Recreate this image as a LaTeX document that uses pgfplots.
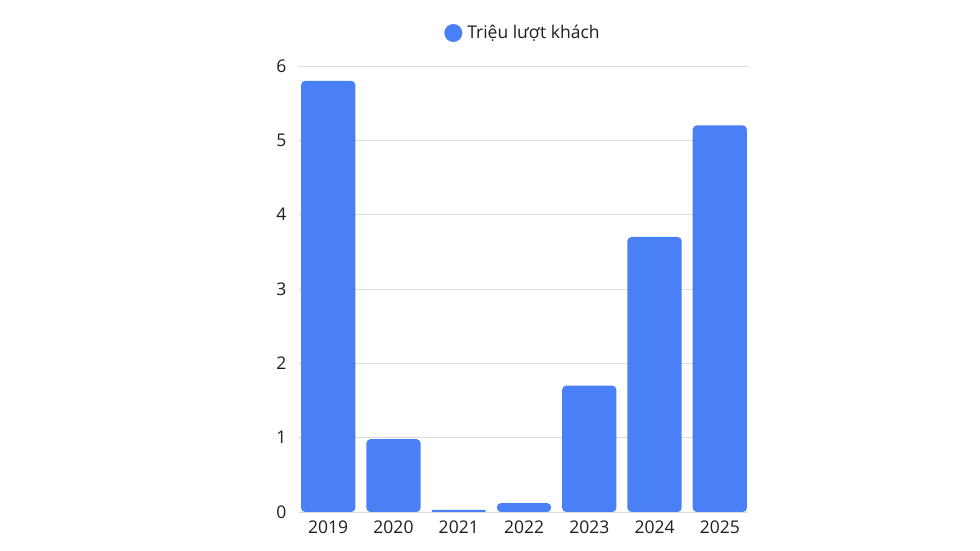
\documentclass[border=0pt]{standalone}
\usepackage{fontspec}
\setmainfont{Open Sans}
\usepackage{pgfplots}
\pgfplotsset{compat=1.18}
\definecolor{barblue}{HTML}{4A80F6}
\definecolor{gridgray}{HTML}{DDDDDD}
\definecolor{textdark}{HTML}{1E1E1E}

\begin{document}
\begin{tikzpicture}[x=1bp,y=1bp]
\useasboundingbox (0,0) rectangle (980,551);
\begin{axis}[
    at={(298bp,39bp)}, anchor=south west,
    scale only axis,
    width=450bp, height=446bp,
    ybar, bar width=0.83, bar shift=0pt,
    xmin=-0.463, xmax=6.432,
    ymin=0, ymax=6,
    xtick={0,...,6},
    xticklabels={2019,2020,2021,2022,2023,2024,2025},
    ytick={0,...,6},
    axis x line=bottom, axis y line=left,
    x axis line style={gridgray, line width=0.8pt, -},
    y axis line style={draw=none},
    ymajorgrids, grid style={gridgray, line width=0.8pt},
    major tick length=0pt,
    tick label style={font=\fontsize{17.5bp}{19bp}\selectfont, text=textdark},
    /pgf/number format/assume math mode=true,
    xticklabel style={yshift=-5bp},
    yticklabel style={xshift=-8bp},
    legend style={at={(0.5,1.074)}, anchor=center, draw=none,
        font=\fontsize{17.5bp}{19bp}\selectfont, text=textdark,
        legend cell align=left},
    legend image code/.code={\fill[barblue] (-3bp,0) circle (9bp);},
    clip=false,
]
\addplot[fill=barblue, draw=none, rounded corners=4bp]
coordinates {(0,5.8) (1,0.98) (3,0.12) (4,1.7) (5,3.7) (6,5.2)};
\addlegendentry{\hspace{3bp}Triệu lượt khách}
% tiny 2021 bar, with smaller corners
\addplot[fill=barblue, draw=none, rounded corners=1bp, forget plot]
coordinates {(2,0.03)};
\end{axis}
\end{tikzpicture}
\end{document}
